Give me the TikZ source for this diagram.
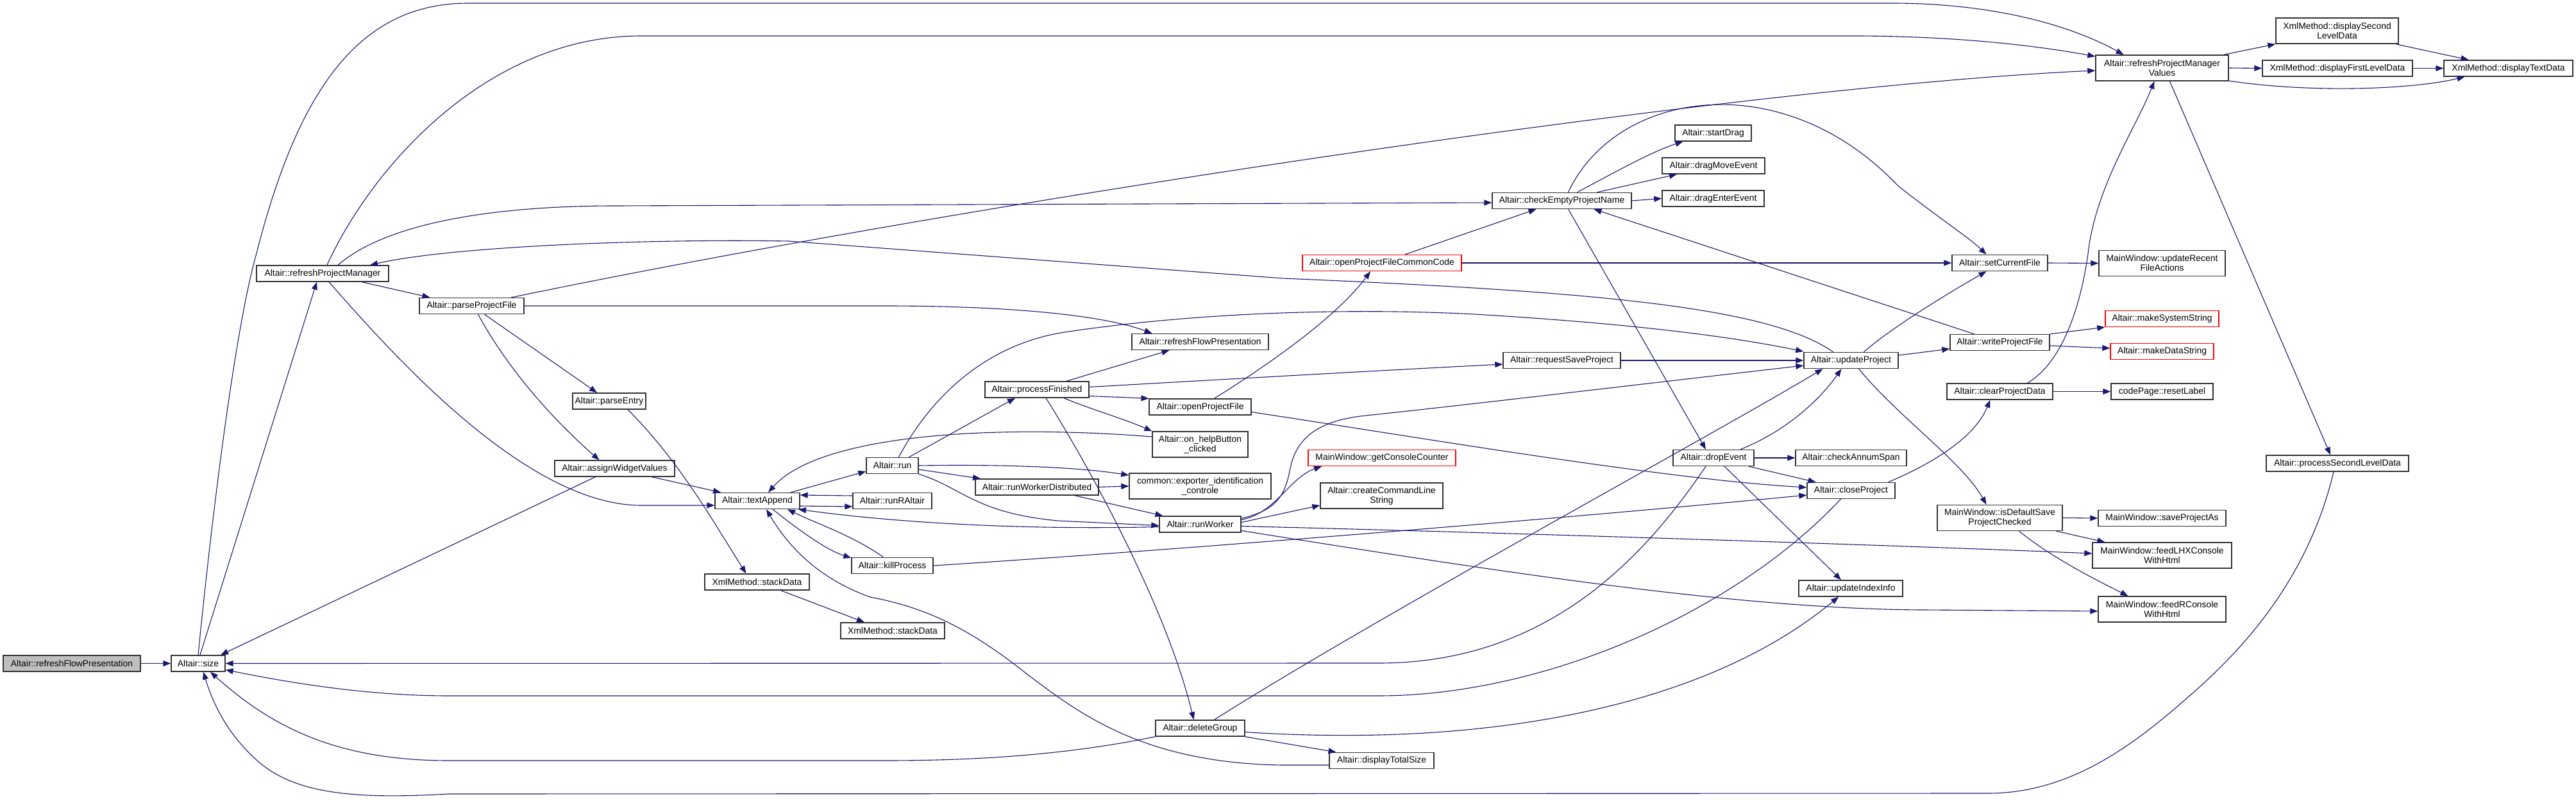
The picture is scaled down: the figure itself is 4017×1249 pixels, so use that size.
\documentclass[tikz,border=0pt]{standalone}
\usepackage{fontspec}
\setmainfont{Liberation Sans}
\usepackage{tikz}
\usetikzlibrary{arrows.meta}
\definecolor{navyedge}{HTML}{191970}
\definecolor{bk80}{HTML}{333333}
\definecolor{focusgray}{HTML}{BFBFBF}
\tikzset{
  fnbox/.style={
    rectangle, draw=bk80, fill=white, line width=1.4pt,
    minimum width=#1, minimum height=25pt, inner sep=0pt,
    font=\fontsize{13.9}{15}\selectfont, align=center
  },
  fnbox/.default=150pt,
  twoline/.style={minimum height=40pt},
  undoc/.style={draw=red},
  callarrow/.style={
    -{Triangle[length=12pt,width=9pt]}, draw=navyedge, line width=1.1pt
  },
}

\begin{document}
\begin{tikzpicture}[x=1pt, y=-1pt]
  \path[use as bounding box, fill=white] (0,0) rectangle (4017,1249);
  % functions
  \node[fnbox=214pt, fill=focusgray] (rfp) at (112,1034.5) {Altair::refreshFlowPresentation};
  \node[fnbox=84pt] (size) at (309,1034.5) {Altair::size};
  \node[fnbox=206pt] (rpm) at (503,426.5) {Altair::refreshProjectManager};
  \node[fnbox=163pt] (ppf) at (735.5,477) {Altair::parseProjectFile};
  \node[fnbox=114pt] (pentry) at (950,625.5) {Altair::parseEntry};
  \node[fnbox=187pt] (awv) at (958.5,730.5) {Altair::assignWidgetValues};
  \node[fnbox=132pt] (tapp) at (1181,781) {Altair::textAppend};
  \node[fnbox=163pt] (sdata1) at (1180.5,907.5) {XmlMethod::stackData};
  \node[fnbox=162pt] (sdata2) at (1392,983.5) {XmlMethod::stackData};
  \node[fnbox=81pt] (run) at (1391.5,726) {Altair::run};
  \node[fnbox=123pt] (rra) at (1391.5,781) {Altair::runRAltair};
  \node[fnbox=127pt] (kill) at (1391.5,882) {Altair::killProcess};
  \node[fnbox=162pt] (pfin) at (1617,607.5) {Altair::processFinished};
  \node[fnbox=213pt] (rfp2) at (1871.5,533) {Altair::refreshFlowPresentation};
  \node[fnbox=159pt] (opf) at (1871.5,634.5) {Altair::openProjectFile};
  \node[fnbox=149pt, twoline] (help) at (1871.5,693) {Altair::on\_helpButton\\\_clicked};
  \node[fnbox=192pt] (rwd) at (1617,759.5) {Altair::runWorkerDistributed};
  \node[fnbox=221pt, twoline] (expid) at (1871.5,758) {common::exporter\_identification\\\_controle};
  \node[fnbox=127pt] (rw) at (1871.5,817.5) {Altair::runWorker};
  \node[fnbox=139pt] (dg) at (1871.5,1135.5) {Altair::deleteGroup};
  \node[fnbox=248pt, undoc] (opfcc) at (2155,410) {Altair::openProjectFileCommonCode};
  \node[fnbox=230pt, undoc] (gcc) at (2155,714) {MainWindow::getConsoleCounter};
  \node[fnbox=191pt, twoline] (ccl) at (2154.5,773) {Altair::createCommandLine\\String};
  \node[fnbox=163pt] (dts) at (2154.5,1186) {Altair::displayTotalSize};
  \node[fnbox=217pt] (cepn) at (2435.5,313) {Altair::checkEmptyProjectName};
  \node[fnbox=183pt] (rsp) at (2435.5,562) {Altair::requestSaveProject};
  \node[fnbox=119pt] (sdrag) at (2671.5,207.5) {Altair::startDrag};
  \node[fnbox=160pt] (dme) at (2672,258.5) {Altair::dragMoveEvent};
  \node[fnbox=159pt] (dee) at (2671.5,309.5) {Altair::dragEnterEvent};
  \node[fnbox=126pt] (drop) at (2672,714) {Altair::dropEvent};
  \node[fnbox=147pt] (up) at (2886.5,562) {Altair::updateProject};
  \node[fnbox=173pt] (cas) at (2886.5,714) {Altair::checkAnnumSpan};
  \node[fnbox=137pt] (cp) at (2886.5,765) {Altair::closeProject};
  \node[fnbox=162pt] (uii) at (2886,917.5) {Altair::updateIndexInfo};
  \node[fnbox=149pt] (scf) at (3118.5,410) {Altair::setCurrentFile};
  \node[fnbox=155pt] (wpf) at (3118.5,534) {Altair::writeProjectFile};
  \node[fnbox=165pt] (cpd) at (3118.5,610.5) {Altair::clearProjectData};
  \node[fnbox=195pt, twoline] (idsp) at (3118.5,807.5) {MainWindow::isDefaultSave\\ProjectChecked};
  \node[fnbox=207pt, twoline] (rpmv) at (3371.5,106) {Altair::refreshProjectManager\\Values};
  \node[fnbox=197pt, twoline] (urfa) at (3371.5,410.5) {MainWindow::updateRecent\\FileActions};
  \node[fnbox=177pt, undoc] (mss) at (3371.5,497) {Altair::makeSystemString};
  \node[fnbox=161pt, undoc] (mds) at (3371.5,548) {Altair::makeDataString};
  \node[fnbox=159pt] (rlabel) at (3371.5,610.5) {codePage::resetLabel};
  \node[fnbox=199pt] (spa) at (3371.5,808) {MainWindow::saveProjectAs};
  \node[fnbox=217pt, twoline] (flhx) at (3371.5,866) {MainWindow::feedLHXConsole\\WithHtml};
  \node[fnbox=199pt, twoline] (frc) at (3371.5,950) {MainWindow::feedRConsole\\WithHtml};
  \node[fnbox=191pt, twoline] (d2l) at (3644.5,48) {XmlMethod::displaySecond\\LevelData};
  \node[fnbox=234pt] (d1l) at (3645,106.5) {XmlMethod::displayFirstLevelData};
  \node[fnbox=201pt] (dtd) at (3911.5,106.5) {XmlMethod::displayTextData};
  \node[fnbox=222pt] (psld) at (3645,722.5) {Altair::processSecondLevelData};
  % calls
  \draw[callarrow] (rfp) -- (size);
  \draw[callarrow] ([xshift=3pt]size.north) -- ([xshift=-9pt]rpm.south);
  \draw[callarrow] (size.north) .. controls (335,760) and (370,500) .. (400,395) .. controls (465,140) and (560,5) .. (730,5) -- (2950,5) .. controls (3110,5) and (3230,40) .. ([xshift=-60pt]rpmv.north);
  \draw[callarrow] ([xshift=7pt]rpm.north) .. controls (580,260) and (760,56) .. (1000,56) -- (2900,56) .. controls (3060,57) and (3180,72) .. ([yshift=18pt]rpmv.west);
  \draw[callarrow] ([xshift=61pt]rpm.south) -- ([xshift=-65pt]ppf.north);
  \draw[callarrow] ([xshift=10pt]rpm.south) .. controls (610,550) and (820,788) .. (1000,788) -- ([yshift=-7pt]tapp.west);
  \draw[callarrow] ([xshift=24pt]rpm.north) .. controls (600,350) and (760,321) .. (960,321) -- ([yshift=-3pt]cepn.west);
  \draw[callarrow] ([xshift=-28pt]up.north) .. controls (2760,480) and (2500,455) .. (2000,434) -- (1230,376) .. controls (1000,372) and (700,385) .. ([xshift=74pt]rpm.north);
  \draw[callarrow] ([xshift=62pt]ppf.north) .. controls (1500,318) and (2700,136) .. ([yshift=-4pt]rpmv.west);
  \draw[callarrow] (ppf.east) -- (1380,477) .. controls (1600,477) and (1730,495) .. ([xshift=-75pt]rfp2.north);
  \draw[callarrow] ([xshift=20pt]ppf.south) -- ([xshift=-19pt]pentry.north);
  \draw[callarrow] ([xshift=10pt]ppf.south) .. controls (800,590) and (880,670) .. ([xshift=-24pt]awv.north);
  \draw[callarrow] ([xshift=29pt]pentry.south) .. controls (1060,720) and (1110,810) .. ([xshift=-17pt]sdata1.north);
  \draw[callarrow] ([xshift=37pt]sdata1.south) -- ([xshift=-44pt]sdata2.north);
  \draw[callarrow] ([xshift=-30pt]awv.south) -- ([xshift=35pt]size.north);
  \draw[callarrow] ([xshift=58pt]awv.south) -- ([xshift=-57pt]tapp.north);
  \draw[callarrow] ([xshift=52pt]tapp.north) -- ([yshift=-9pt]run.west);
  \draw[callarrow] ([yshift=8pt]rra.west) -- ([yshift=9pt]tapp.east);
  \draw[callarrow] ([yshift=-8pt]tapp.east) -- ([yshift=-9pt]rra.west);
  \draw[callarrow] ([yshift=-4pt]rw.west) .. controls (1620,826) and (1420,818) .. ([xshift=64pt]tapp.south);
  \draw[callarrow] (run.south east) .. controls (1500,760) and (1520,800) .. (1650,812) -- ([yshift=-2pt]rw.west);
  \draw[callarrow] ([xshift=24pt]tapp.south) .. controls (1250,830) and (1290,858) .. ([yshift=12pt]kill.west);
  \draw[callarrow] ([xshift=-14pt]kill.north) .. controls (1330,835) and (1270,815) .. ([xshift=47pt]tapp.south);
  \draw[callarrow] ([yshift=12pt]help.west) .. controls (1560,662) and (1280,675) .. ([xshift=17pt]tapp.north);
  \draw[callarrow] ([yshift=-7pt]dts.west) -- (2000,1193) .. controls (1780,1190) and (1680,1110) .. (1600,1050) .. controls (1500,970) and (1430,945) .. (1357,931) .. controls (1270,900) and (1225,845) .. ([xshift=14pt]tapp.south);
  \draw[callarrow] ([xshift=26pt]run.north) -- ([xshift=-34pt]pfin.south);
  \draw[callarrow] ([xshift=10pt]run.north) .. controls (1440,640) and (1520,540) .. (1660,518) .. controls (1900,482) and (2150,482) .. (2300,490) .. controls (2550,505) and (2700,525) .. ([yshift=14pt]up.west);
  \draw[callarrow] (run.east) .. controls (1560,724) and (1680,728) .. ([yshift=17pt]expid.west);
  \draw[callarrow] ([yshift=-6pt]run.east) -- ([xshift=-88pt]rwd.north);
  \draw[callarrow] (rwd.east) -- (expid.west);
  \draw[callarrow] ([xshift=59pt]rwd.south) -- ([xshift=-58pt]rw.north);
  \draw[callarrow] ([xshift=46pt]pfin.north) -- ([xshift=-48pt]rfp2.south);
  \draw[callarrow] ([yshift=4pt]pfin.east) .. controls (1900,592) and (2200,575) .. ([yshift=-6pt]rsp.west);
  \draw[callarrow] ([yshift=-10pt]pfin.east) -- ([xshift=-80pt]opf.north);
  \draw[callarrow] ([xshift=42pt]pfin.south) .. controls (1700,638) and (1750,652) .. ([xshift=-75pt]help.north);
  \draw[callarrow] ([xshift=14pt]pfin.south) .. controls (1700,730) and (1820,950) .. ([xshift=-10pt]dg.north);
  \draw[callarrow] ([xshift=22pt]opf.north) .. controls (1960,580) and (2080,500) .. ([xshift=-18pt]opfcc.south);
  \draw[callarrow] ([yshift=-8pt]opf.east) .. controls (2200,680) and (2600,748) .. ([yshift=5pt]cp.west);
  \draw[callarrow] ([xshift=36pt]opfcc.north) -- ([xshift=-40pt]cepn.south);
  \draw[callarrow] (opfcc.east) -- (scf.west);
  \draw[callarrow] ([xshift=24pt]cepn.north) .. controls (2530,262) and (2580,235) .. ([xshift=-47pt]sdrag.south);
  \draw[callarrow] ([xshift=55pt]cepn.north) -- ([xshift=-57pt]dme.south);
  \draw[callarrow] (cepn.east) -- (dee.west);
  \draw[callarrow] ([xshift=10pt]cepn.north) .. controls (2520,140) and (2780,100) .. (2960,290) .. controls (3030,345) and (3070,370) .. ([xshift=-21pt]scf.north);
  \draw[callarrow] ([xshift=10pt]cepn.south) -- ([xshift=-12pt]drop.north);
  \draw[callarrow] ([xshift=-40pt]wpf.north) -- ([xshift=50pt]cepn.south);
  \draw[callarrow] (rsp.east) -- (up.west);
  \draw[callarrow] ([yshift=9pt]rw.east) .. controls (1985,796) and (2003,780) .. (2012,730) .. controls (2022,680) and (2060,655) .. (2130,648) .. controls (2300,630) and (2550,600) .. ([yshift=-8pt]up.west);
  \draw[callarrow] ([yshift=7pt]rw.east) .. controls (1990,800) and (2010,745) .. ([xshift=-94pt]gcc.south);
  \draw[callarrow] ([yshift=3pt]rw.east) -- ([yshift=-15pt]ccl.west);
  \draw[callarrow] ([yshift=-3pt]rw.east) .. controls (2400,832) and (3000,852) .. ([yshift=3pt]flhx.west);
  \draw[callarrow] ([yshift=-10pt]rw.east) .. controls (2300,885) and (2700,950) .. (3000,951) -- ([yshift=-3pt]frc.west);
  \draw[callarrow] (kill.east) .. controls (1800,860) and (2400,812) .. ([yshift=-7pt]cp.west);
  \draw[callarrow] ([xshift=20pt]up.north) .. controls (2950,510) and (3050,450) .. ([xshift=-21pt]scf.south);
  \draw[callarrow] ([yshift=8pt]up.east) -- ([yshift=-10pt]wpf.west);
  \draw[callarrow] ([xshift=12pt]up.south) .. controls (2960,650) and (3060,720) .. ([xshift=-21pt]idsp.north);
  \draw[callarrow] ([xshift=42pt]drop.north) .. controls (2790,670) and (2840,620) .. ([xshift=-15pt]up.south);
  \draw[callarrow] (drop.east) -- (cas.west);
  \draw[callarrow] ([xshift=55pt]drop.south) -- ([xshift=-55pt]cp.north);
  \draw[callarrow] ([xshift=17pt]drop.south) -- ([xshift=-15pt]uii.north);
  \draw[callarrow] ([xshift=-12pt]drop.south) .. controls (2570,860) and (2420,1034) .. (2150,1034) -- (size.east);
  \draw[callarrow] ([xshift=22pt]dg.north) .. controls (2150,960) and (2650,690) .. ([xshift=-44pt]up.south);
  \draw[callarrow] (dg.south east) -- ([xshift=-71pt]dts.north);
  \draw[callarrow] ([yshift=-6pt]dg.east) .. controls (2300,1165) and (2650,1110) .. ([xshift=-19pt]uii.south);
  \draw[callarrow] (dg.south west) .. controls (1650,1180) and (1500,1186) .. (1380,1186) -- (700,1186) .. controls (520,1186) and (420,1130) .. ([xshift=19pt]size.south);
  \draw[callarrow] ([xshift=-6pt]psld.south) .. controls (3600,900) and (3500,1010) .. (3420,1080) .. controls (3330,1160) and (3230,1237) .. (3100,1237) -- (700,1238) .. controls (560,1246) and (460,1240) .. (400,1185) .. controls (350,1140) and (330,1090) .. ([xshift=8pt]size.south);
  \draw[callarrow] ([xshift=-16pt]cp.south) .. controls (2700,960) and (2400,1085) .. (2150,1085) -- (700,1085) .. controls (560,1085) and (430,1060) .. ([yshift=-10pt]size.east);
  \draw[callarrow] ([xshift=43pt]cpd.north) .. controls (3225,560) and (3250,450) .. (3258,380) .. controls (3275,280) and (3330,200) .. ([xshift=-12pt]rpmv.south);
  \draw[callarrow] ([xshift=58pt]cp.north) .. controls (3020,720) and (3080,680) .. ([xshift=-15pt]cpd.south);
  \draw[callarrow] (cpd.east) -- (rlabel.west);
  \draw[callarrow] (scf.east) -- (urfa.west);
  \draw[callarrow] (wpf.north east) -- (mss.south west);
  \draw[callarrow] ([yshift=-5pt]wpf.east) -- ([yshift=5pt]mds.west);
  \draw[callarrow] (idsp.east) -- (spa.west);
  \draw[callarrow] ([xshift=88pt]idsp.south) -- ([xshift=-89pt]flhx.north);
  \draw[callarrow] ([xshift=30pt]idsp.south) .. controls (3200,870) and (3270,905) .. ([xshift=-53pt]frc.north);
  \draw[callarrow] ([xshift=-8pt]rpmv.north east) -- (d2l.south west);
  \draw[callarrow] (rpmv.east) -- (d1l.west);
  \draw[callarrow] ([yshift=-20pt]rpmv.east) .. controls (3600,145) and (3760,140) .. ([xshift=-68pt]dtd.south);
  \draw[callarrow] ([xshift=-5pt]d2l.south east) -- ([xshift=-62pt]dtd.north);
  \draw[callarrow] (d1l.east) -- (dtd.west);
  \draw[callarrow] ([xshift=12pt]rpmv.south) -- ([xshift=-11pt]psld.north);
\end{tikzpicture}
\end{document}
